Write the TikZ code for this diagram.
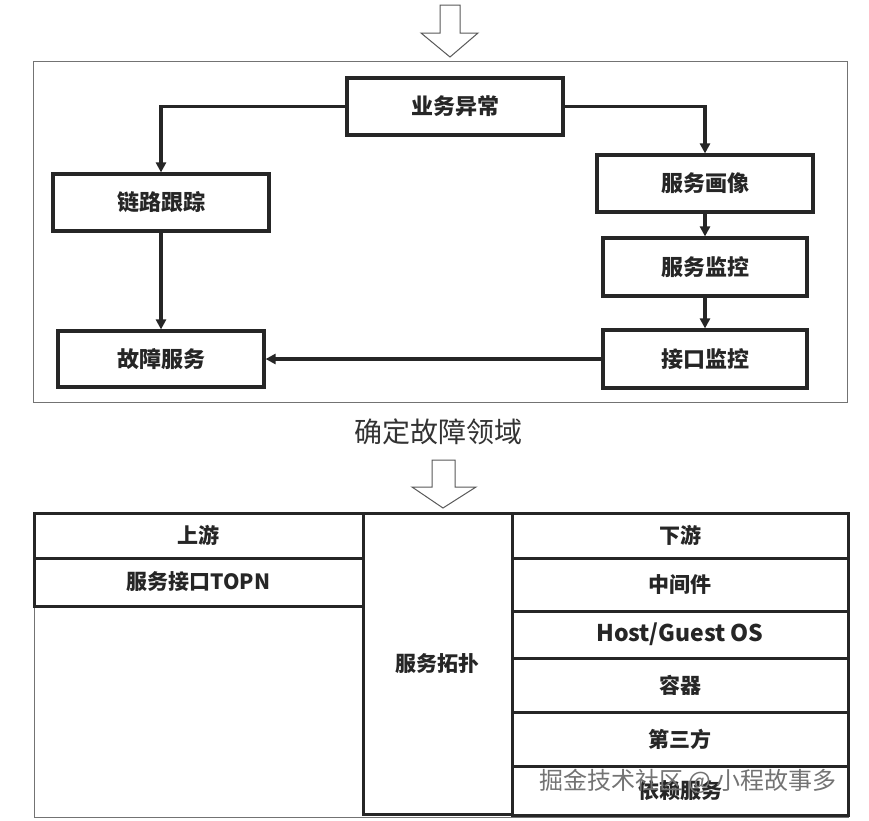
\documentclass[tikz,border=0pt]{standalone}
\usepackage{fontspec}
\newfontfamily\cjk{Noto Sans CJK SC}
\usetikzlibrary{arrows.meta}
\tikzset{
  box/.style={draw=black!85, line width=3.2pt, inner sep=0pt, font=\cjk\bfseries\fontsize{22}{26}\selectfont, text=black!85},
  cell/.style={draw=black!85, line width=3pt, inner sep=0pt, font=\cjk\bfseries\fontsize{21}{25}\selectfont, text=black!85},
  conn/.style={draw=black!85, line width=3.2pt, -{Triangle[length=10pt,width=10pt]}},
  frame/.style={draw=black!55, line width=1pt},
  blockarrow/.style={draw=black!65, line width=1pt, fill=white, line join=miter}
}
\begin{document}
\begin{tikzpicture}[x=1pt,y=-1pt]
\useasboundingbox[fill=white] (0,0) rectangle (869,820);
% top block arrow
\draw[blockarrow] (440,5) -- (460,5) -- (460,33) -- (478,33) -- (450,57) -- (421,33) -- (440,33) -- cycle;
% frame
\draw[frame] (33,61) rectangle (847,402);
% boxes
\node[box, minimum width=216pt, minimum height=57pt] (yw) at (455,106.5) {业务异常};
\node[box, minimum width=216pt, minimum height=57pt] (ll) at (161,202.5) {链路跟踪};
\node[box, minimum width=206pt, minimum height=56pt] (gz) at (161,359) {故障服务};
\node[box, minimum width=216pt, minimum height=57pt] (hx) at (705,183.5) {服务画像};
\node[box, minimum width=204pt, minimum height=58pt] (jk) at (705,267) {服务监控};
\node[box, minimum width=204pt, minimum height=58pt] (jkjk) at (705,359) {接口监控};
% connectors
\draw[conn] (yw.west) -| (ll.north);
\draw[conn] (yw.east) -| (hx.north);
\draw[conn] (ll.south) -- (gz.north);
\draw[conn] (hx.south) -- (jk.north);
\draw[conn] (jk.south) -- (jkjk.north);
\draw[conn] (jkjk.west) -- (gz.east);
% caption
\node[font=\cjk\fontsize{28}{32}\selectfont, text=black!80] (cap) at (438,432) {确定故障领域};
% second block arrow
\draw[blockarrow] (432,460) -- (455,460) -- (455,487) -- (476,487) -- (443,508) -- (412,487) -- (432,487) -- cycle;
% table outer thin frame
\draw[frame] (34,513) rectangle (848,817);
% left cells
\node[cell, minimum width=329pt, minimum height=45pt] (up) at (198.5,535.5) {上游};
\node[cell, minimum width=329pt, minimum height=48pt] (topn) at (198.5,582) {服务接口TOPN};
% middle
\node[cell, minimum width=149pt, minimum height=301pt] (topo) at (437.5,663.5) {服务拓扑};
% right cells
\node[cell, minimum width=336pt, minimum height=45pt] (down) at (680,535.5) {下游};
\node[cell, minimum width=336pt, minimum height=53pt] (mid) at (680,584.5) {中间件};
\node[cell, minimum width=336pt, minimum height=47pt, font=\cjk\bfseries\fontsize{23}{26}\selectfont] (os) at (680,634.5) {Host/Guest OS};
\node[cell, minimum width=336pt, minimum height=54pt] (ctr) at (680,685) {容器};
\node[cell, minimum width=336pt, minimum height=54pt] (third) at (680,739) {第三方};
\node[cell, minimum width=336pt, minimum height=49pt] (dep) at (680,790.5) {依赖服务};
% watermark
\node[font=\cjk\fontsize{24}{27}\selectfont, text=black!55] (wm) at (688,781) {掘金技术社区 @ 小程故事多};
\end{tikzpicture}
\end{document}
